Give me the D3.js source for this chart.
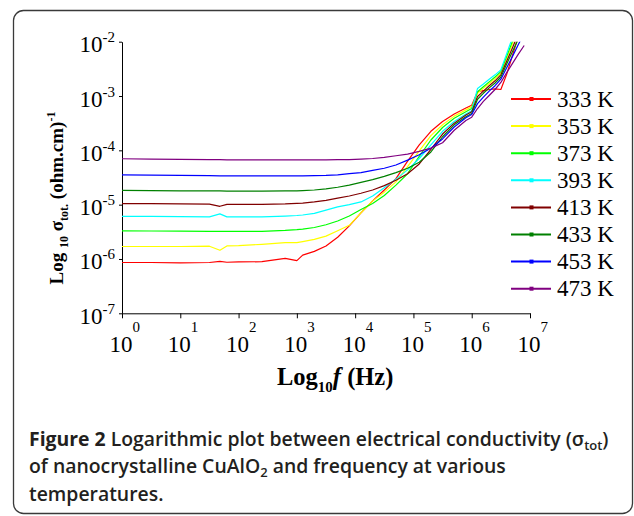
<!DOCTYPE html>
<html>
<head>
<meta charset="utf-8">
<script src="https://cdn.jsdelivr.net/npm/d3@7"></script>
<style>
  body { margin: 0; background: #fff; }
  svg { display: block; }
</style>
</head>
<body>
<div id="chart"></div>
<script>
// log10 of frequency (Hz), shared by every series
const logF = [0, 0.5, 1, 1.5, 1.68, 1.8, 2, 2.4, 2.8, 3, 3.1, 3.3, 3.5, 3.7, 3.9, 4.1, 4.3, 4.5, 4.7, 4.9,
              5.1, 5.3, 5.5, 5.7, 5.9, 6, 6.1, 6.2, 6.3, 6.4, 6.5, 6.6, 6.7, 6.8, 6.9];

// log10 of sigma_tot (ohm.cm)^-1, one list per temperature
const s333 = [-6.065, -6.065, -6.07, -6.065, -6.045, -6.06, -6.055, -6.05, -5.99, -6.03, -5.93, -5.86, -5.76, -5.6, -5.39,
              -5.15, -4.93, -4.73, -4.52, -4.2, -3.9, -3.65, -3.47, -3.33, -3.22, -3.17, -2.92, -2.9, -2.88, -2.87,
              -2.88, -2.6, -2.25, -1.9, null];
const s353 = [-5.77, -5.77, -5.77, -5.765, -5.84, -5.76, -5.755, -5.73, -5.7, -5.7, -5.68, -5.64, -5.58, -5.48, -5.38,
              -5.15, -4.93, -4.77, -4.58, -4.3, -4.01, -3.73, -3.53, -3.37, -3.255, -3.2, -2.95, -2.86, -2.77, -2.68,
              -2.58, -2.31, -2.04, -1.75, null];
const s373 = [-5.484, -5.485, -5.487, -5.49, -5.49, -5.49, -5.49, -5.49, -5.475, -5.46, -5.45, -5.42, -5.37, -5.3, -5.21,
              -5.09, -4.98, -4.83, -4.64, -4.43, -4.11, -3.81, -3.58, -3.41, -3.29, -3.23, -2.92, -2.83, -2.74, -2.65,
              -2.55, -2.27, -1.99, -1.7, null];
const s393 = [-5.215, -5.215, -5.22, -5.225, -5.17, -5.225, -5.225, -5.225, -5.21, -5.2, -5.19, -5.16, -5.1, -5.04, -5.0,
              -4.95, -4.84, -4.69, -4.53, -4.36, -4.15, -3.9, -3.65, -3.47, -3.33, -3.27, -2.86, -2.78, -2.69, -2.61,
              -2.52, -2.22, -1.92, null, null];
const s413 = [-4.98, -4.98, -4.985, -4.99, -5.03, -4.995, -4.995, -4.995, -4.985, -4.975, -4.97, -4.95, -4.92, -4.88, -4.84,
              -4.79, -4.73, -4.65, -4.55, -4.43, -4.25, -3.98, -3.7, -3.5, -3.35, -3.29, -3.01, -2.91, -2.81, -2.72,
              -2.61, -2.36, -2.11, -1.85, null];
const s433 = [-4.737, -4.74, -4.745, -4.745, -4.745, -4.75, -4.75, -4.75, -4.745, -4.745, -4.74, -4.73, -4.71, -4.68, -4.64,
              -4.59, -4.54, -4.48, -4.41, -4.33, -4.22, -4.03, -3.75, -3.53, -3.38, -3.32, -3.06, -2.95, -2.85, -2.76,
              -2.65, -2.41, -2.18, -1.95, -1.7];
const s453 = [-4.45, -4.455, -4.46, -4.465, -4.47, -4.47, -4.47, -4.47, -4.47, -4.47, -4.47, -4.465, -4.46, -4.45, -4.43,
              -4.41, -4.37, -4.33, -4.27, -4.18, -4.08, -3.96, -3.79, -3.57, -3.4, -3.34, -3.14, -3.02, -2.91, -2.81,
              -2.69, -2.48, -2.27, -2.05, -1.85];
const s473 = [-4.155, -4.16, -4.165, -4.17, -4.17, -4.175, -4.175, -4.175, -4.175, -4.175, -4.175, -4.175, -4.175, -4.17, -4.17,
              -4.16, -4.15, -4.13, -4.1, -4.07, -4.02, -3.96, -3.86, -3.63, -3.45, -3.39, -3.23, -3.1, -2.99, -2.88,
              -2.75, -2.57, -2.4, -2.23, -2.07];

const temps = ["333 K", "353 K", "373 K", "393 K", "413 K", "433 K", "453 K", "473 K"];
const colors = ["#ff0000", "#ffff00", "#00ff00", "#00ffff", "#800000", "#008000", "#0000ff", "#800080"];
const seriesValues = [s333, s353, s373, s393, s413, s433, s453, s473];

const xTicks = [0, 1, 2, 3, 4, 5, 6, 7];
const yTicks = [-7, -6, -5, -4, -3, -2];

const width = 634, height = 516;
const margin = ({top: 41.7, right: 104, bottom: 202.7, left: 122});

const svg = d3.select("#chart")
    .append("svg")
    .attr("width", width)
    .attr("height", height)
    .attr("viewBox", [0, 0, width, height]);

// figure frame
svg.append("rect")
    .attr("x", 13.5).attr("y", 10.5)
    .attr("width", 619).attr("height", 503)
    .attr("rx", 10)
    .attr("fill", "none")
    .attr("stroke", "#3a3a3a")
    .attr("stroke-width", 1.3);

const x = d3.scaleLinear()
    .domain([0, 7])
    .range([margin.left, width - margin.right]);

const y = d3.scaleLinear()
    .domain([-7, -2])
    .range([height - margin.bottom, margin.top]);

const serif = "'Liberation Serif', 'Times New Roman', serif";

// x axis
const gx = svg.append("g")
    .attr("transform", `translate(0,${y(-7)})`)
    .call(d3.axisBottom(x).tickValues(xTicks).tickSize(5).tickSizeOuter(0).tickFormat(""));
gx.select(".domain").attr("stroke", "#000");
gx.selectAll(".tick line").attr("stroke", "#000");
const xl = gx.selectAll(".tick").append("text")
    .attr("fill", "#000")
    .attr("font-family", serif)
    .attr("text-anchor", "start")
    .attr("y", 38.4);
xl.append("tspan").attr("x", -13).attr("font-size", 23).text("10");
xl.append("tspan").attr("x", 10).attr("dy", -20).attr("font-size", 15).text(d => d);

// y axis
const gy = svg.append("g")
    .attr("transform", `translate(${x(0)},0)`)
    .call(d3.axisLeft(y).tickValues(yTicks).tickSize(3).tickSizeOuter(0).tickFormat(""));
gy.select(".domain").attr("stroke", "#000");
gy.selectAll(".tick line").attr("stroke", "#000");
const yl = gy.selectAll(".tick").append("text")
    .attr("fill", "#000")
    .attr("font-family", serif)
    .attr("text-anchor", "start")
    .attr("y", 10);
yl.append("tspan").attr("x", -42.5).attr("font-size", 23).text("10");
yl.append("tspan").attr("dy", -10).attr("font-size", 15).text(d => "-" + Math.abs(d));

// axis titles
const xt = svg.append("text")
    .attr("x", 277).attr("y", 385)
    .attr("font-family", serif).attr("font-weight", "bold").attr("font-size", 24.5);
xt.append("tspan").text("Log");
xt.append("tspan").attr("font-size", 15).attr("dy", 7).text("10");
xt.append("tspan").attr("dy", -7).attr("font-style", "italic").text("f");
xt.append("tspan").text(" (Hz)");

const yt = svg.append("text")
    .attr("transform", `translate(63,${198}) rotate(-90)`)
    .attr("text-anchor", "middle")
    .attr("font-family", serif).attr("font-weight", "bold").attr("font-size", 19);
yt.append("tspan").text("Log ");
yt.append("tspan").attr("font-size", 12).attr("dy", 5).text("10");
yt.append("tspan").attr("dy", -5).text(" σ");
yt.append("tspan").attr("font-size", 12).attr("dy", 5).text("tot.");
yt.append("tspan").attr("dy", -5).text(" (ohm.cm)");
yt.append("tspan").attr("font-size", 12).attr("dy", -8).text("-1");

// curves
svg.append("clipPath").attr("id", "plot")
    .append("rect")
    .attr("x", x(0)).attr("y", y(-2))
    .attr("width", x(7) - x(0)).attr("height", y(-7) - y(-2));

const line = d3.line()
    .defined(d => d[1] !== null)
    .x(d => x(d[0]))
    .y(d => y(d[1]));

svg.append("g")
    .attr("clip-path", "url(#plot)")
    .selectAll("path")
    .data(seriesValues)
    .join("path")
    .attr("fill", "none")
    .attr("stroke", (d, i) => colors[i])
    .attr("stroke-width", 1.2)
    .attr("stroke-linejoin", "round")
    .attr("d", vals => line(logF.map((f, j) => [f, vals[j]])));

// legend
const legend = svg.append("g")
    .selectAll("g")
    .data(temps)
    .join("g")
    .attr("transform", (d, i) => `translate(511,${99 + i * 27.1})`);
legend.append("line")
    .attr("x1", 0).attr("x2", 40)
    .attr("stroke", (d, i) => colors[i])
    .attr("stroke-width", 2);
legend.append("rect")
    .attr("x", 18.5).attr("y", -2).attr("width", 4).attr("height", 4)
    .attr("fill", (d, i) => colors[i]);
legend.append("text")
    .attr("x", 46).attr("y", 7.7)
    .attr("font-family", serif).attr("font-size", 23)
    .text(d => d);

// caption
const sans = "'Open Sans', 'Noto Sans', sans-serif";
const cap = svg.append("g")
    .attr("font-family", sans).attr("font-size", 19.4).attr("fill", "#231f20").attr("font-weight", 600);
const c1 = cap.append("text").attr("x", 29).attr("y", 446);
c1.append("tspan").attr("font-weight", 700).text("Figure 2");
c1.append("tspan").text(" Logarithmic plot between electrical conductivity (σ");
c1.append("tspan").attr("font-size", 13).attr("dy", 4).text("tot");
c1.append("tspan").attr("dy", -4).text(")");
const c2 = cap.append("text").attr("x", 29).attr("y", 473);
c2.append("tspan").text("of nanocrystalline CuAlO");
c2.append("tspan").attr("font-size", 13).attr("dy", 4).text("2");
c2.append("tspan").attr("dy", -4).text(" and frequency at various");
cap.append("text").attr("x", 29).attr("y", 501).text("temperatures.");
</script>
</body>
</html>
